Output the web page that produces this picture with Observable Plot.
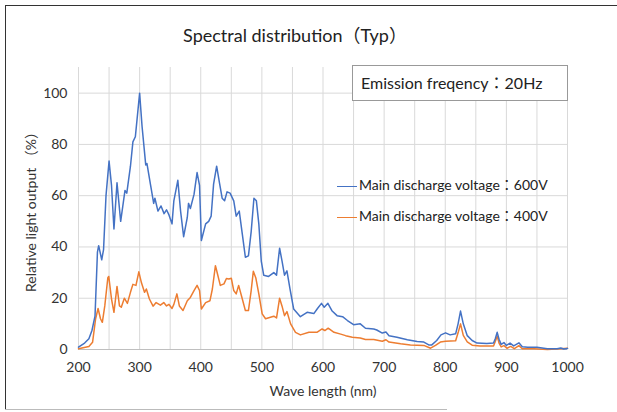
<!DOCTYPE html>
<html><head><meta charset="utf-8">
<script src="https://cdn.jsdelivr.net/npm/d3@7"></script>
<script src="https://cdn.jsdelivr.net/npm/@observablehq/plot@0.6"></script>
<style>
body{margin:0;background:#fff;}
#wrap{position:relative;width:617px;height:412px;overflow:hidden;font-family:Lato,"Noto Sans CJK JP",sans-serif;color:#222;}
#wrap svg{position:absolute;left:0;top:0;}
.ov{position:absolute;white-space:nowrap;}
</style></head><body>
<div id="wrap">
  <div id="frame" style="position:absolute;left:5px;top:5px;width:640px;height:404px;border-left:1px solid #333;border-top:1px solid #333;"></div>
  <div style="position:absolute;left:5px;top:409px;width:442px;height:1px;background:#bbb;"></div>
</div>
<script>
const nm600 = [200,210,217,222,227,231,233,238,241,245,250,254,258,263,269,276,279,285,289,293,300,304,310,312,318,323,325,330,335,340,344,348,353,356,362.5,367,372,378,380,383,389,394,398,401,408,413,417,421,426,431,435,439,443,448,454,458,463,468,473,478,482.5,487,491,495,499,503,511,519.5,524,529,533,537,541,546,552,563,574,585,591,597.5,602,608,615,623,632,640,650,661,669.5,683,688,697,703,708,721,738,754,765,773,778,786,793,800.5,808,817,821,825,829.5,836,844,852,868,879,882,885,888,891.5,896,900,906,912,920.5,926,935,950,967,983,989,994,1000];
const val600 = [0.9,2.5,4.2,7.4,13,38,40.5,35,39,60,73.5,64,47,65,50,62,61,71.5,81,83,100,87,72,72.5,64,57,59,54,56,53,54.5,52.5,49,58,66,54,44,51.5,57,55,60.5,69,64,42.5,49,50,52,64.5,71.5,64.5,59,58,61.5,61,58,52,54,45,36,36.5,46,59,58,49,34.5,29,28.5,30,29,39.5,34.5,29,30.7,23.6,15.8,12.8,14.5,14,16,18,16.5,18,15,13.2,12.8,11.3,9.7,10,8.3,8,7.6,6.4,6.8,5.4,4.8,3.8,3.1,2.9,1.8,1.8,3.5,5.7,6.5,5.7,6.1,10,15,10,5.4,3.5,2.5,2.3,2.5,4.3,6.7,4,2,2.7,1.6,2.5,1.4,2.6,1.1,0.9,0.9,0.3,0.3,0.6,0.2,0.4];
const nm400 = [200,217,223,228,232,236,239,243,248,249.5,254,258,263,267,270,275,280,285,289,294,298.7,303,308,311,316,322,327,334,339.5,344,348,353,356,361,365,371,378,383,389,394,398,401,408,415,419,424,426,432,438,442,446,450,454,458,462,468,473,478,482.5,486,490,495,500.5,506,514,519.5,524,529,533,537,541,547,555,563,577,590,598.5,603,608.5,618,629,637,648,661,669.5,683,697,703,708,727,743,765,776,784,792,800.5,817,821,825,829.5,836,844,857,879,882,885,888,891.5,896,901,907,913,920.5,926,945,967,989,1000];
const val400 = [0.3,1.2,2.8,12,16,12,10.6,17,28,28.5,19.7,14.5,24.6,17,16.5,20,18,22.3,25.4,25,30.3,26,22.3,23.6,19.7,16.9,18.3,17.3,18.3,17,17.6,16,17.6,21.7,17,15.2,19,20.3,23,25,23,15.8,18.3,19,23.6,32.7,30.8,25,25.6,27.7,27.5,27.8,23,21.7,25,19.7,15.2,15.2,23,30.5,28,21.7,13.9,12,12.6,13,12.3,20,16.9,13.2,14.8,10,6.7,5.7,6.7,6.7,8,7.4,8.3,6.7,6,5.4,4.8,4.5,3.9,3.9,3.2,3.8,2.9,2.2,1.8,1.6,0.5,1.6,2.9,3.2,3.4,6.5,10,5.5,3,1.7,1.4,1.4,3.2,5.2,2.5,1,1.5,0.5,1.2,0.3,1.5,0.3,0.3,0,0.3,0.5];
const xTicks = [200,300,400,500,600,700,800,900,1000];
const xGrid = d3.range(200, 1001, 50);
const yTicks = [0,20,40,60,80,100];
const seriesNames = ["Main discharge voltage：600V","Main discharge voltage：400V"];
const colors = ["#4472C4","#ED7D31"];
const titleText = "Spectral distribution（Typ）";
const boxText = "Emission freqency：20Hz";

const d600 = nm600.map((x,i)=>({x, y: val600[i]}));
const d400 = nm400.map((x,i)=>({x, y: val400[i]}));

const chart = Plot.plot({
  width: 617, height: 412,
  marginLeft: 78, marginRight: 50, marginTop: 67, marginBottom: 63,
  style: {fontSize: "14px", fontFamily: 'Lato,"Noto Sans CJK JP",sans-serif', color: "#333", background: "transparent"},
  x: {domain: [200, 1000]},
  y: {domain: [0, 110]},
  marks: [
    Plot.ruleX(xGrid, {stroke: "#d9d9d9", strokeWidth: 1}),
    Plot.ruleY(yTicks.filter(d=>d>0), {stroke: "#d9d9d9", strokeWidth: 1}),
    Plot.ruleY([0], {stroke: "#bfbfbf", strokeWidth: 1}),
    Plot.axisX({ticks: xTicks, tickSize: 0, tickPadding: 13, tickFormat: d=>String(d), fontSize: 14,
      label: "Wave length (nm)", labelAnchor: "center", labelArrow: "none", labelOffset: 46}),
    Plot.axisY({ticks: yTicks, tickSize: 0, tickPadding: 11, tickFormat: d=>String(d), fontSize: 14,
      label: "Relative light output （%）", labelAnchor: "center", labelArrow: "none", labelOffset: 52}),
    Plot.line(d400, {x: "x", y: "y", stroke: colors[1], strokeWidth: 1.5}),
    Plot.line(d600, {x: "x", y: "y", stroke: colors[0], strokeWidth: 1.5})
  ]
});
const wrap = document.getElementById("wrap");
wrap.appendChild(chart);

function ov(html, css){ const d=document.createElement("div"); d.className="ov"; d.innerHTML=html; Object.assign(d.style, css); wrap.appendChild(d); return d; }
ov(titleText, {left:"0px", width:"590px", textAlign:"center", top:"21px", fontSize:"18px", color:"#222"});
ov(boxText, {left:"352px", top:"65px", width:"206px", height:"34px", lineHeight:"34px", paddingLeft:"8px", border:"1px solid #999", background:"#fff", fontSize:"16px", color:"#222"});
seriesNames.forEach((s,i)=>{
  ov(`<span style="display:inline-block;width:20px;height:0;border-top:1.5px solid ${colors[i]};vertical-align:middle;margin-right:2px"></span>${s}`,
    {left:"337px", top:(174+i*31)+"px", fontSize:"14px", color:"#222"});
});
</script>
</body></html>
